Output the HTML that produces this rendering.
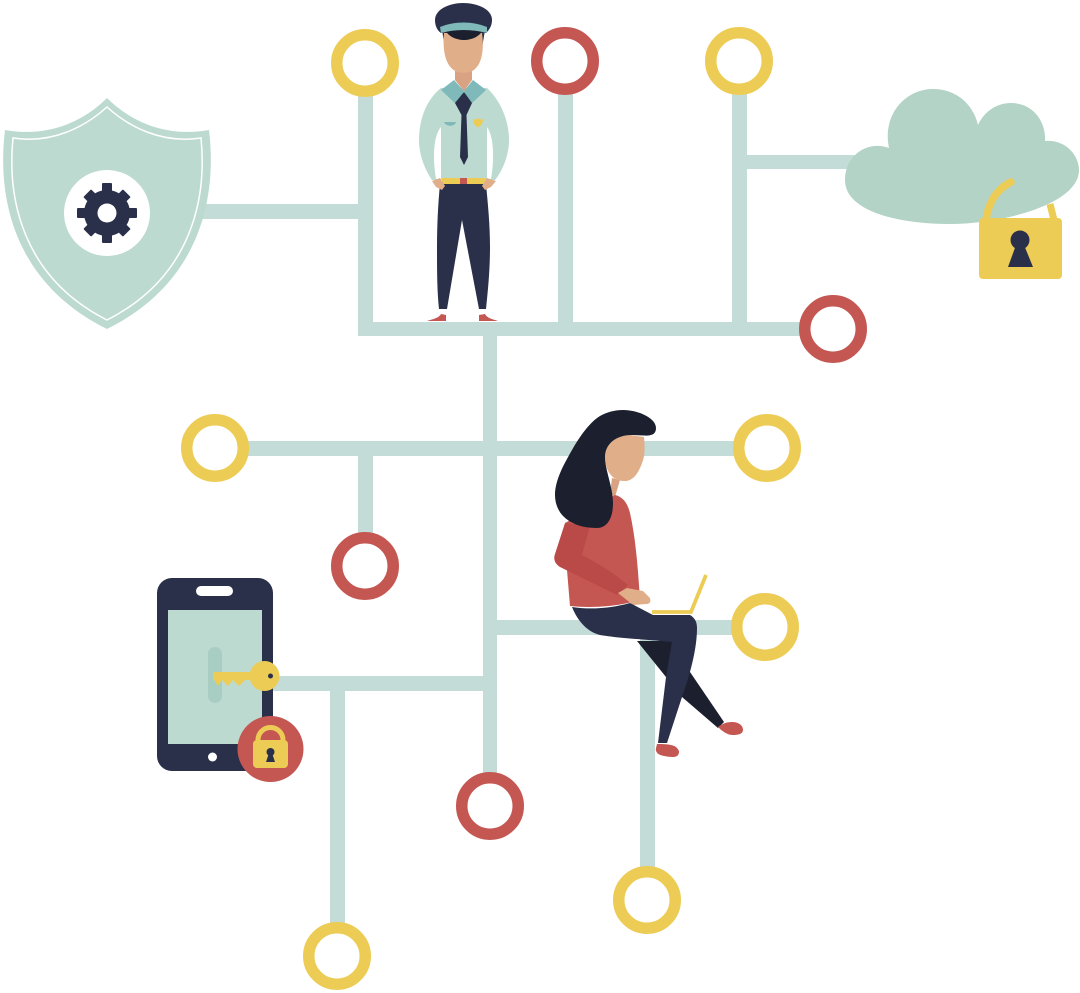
<!DOCTYPE html>
<html><head><meta charset="utf-8"><style>html,body{margin:0;padding:0;background:#fff}svg{display:block}</style></head>
<body>
<svg width="1080" height="993" viewBox="0 0 1080 993" xmlns="http://www.w3.org/2000/svg">
<!-- connectors -->
<g fill="#c3dcd7">
<rect x="358" y="62" width="15" height="274"/>
<rect x="358" y="322" width="475" height="14"/>
<rect x="558" y="62" width="15" height="267"/>
<rect x="732" y="62" width="15" height="267"/>
<rect x="739" y="155" width="131" height="14"/>
<rect x="195" y="204" width="170" height="15"/>
<rect x="483" y="329" width="14" height="477"/>
<rect x="215" y="441" width="552" height="15"/>
<rect x="358" y="448" width="15" height="118"/>
<rect x="490" y="620" width="275" height="15"/>
<rect x="640" y="627" width="15" height="273"/>
<rect x="270" y="676" width="220" height="15"/>
<rect x="330" y="683" width="15" height="273"/>
</g>
<!-- nodes -->
<g fill="#fff" stroke-width="11.500">
<g stroke="#edcc56">
<circle cx="365" cy="63" r="28.250"/><circle cx="739" cy="61" r="28.250"/><circle cx="215" cy="448" r="28.250"/><circle cx="767" cy="448" r="28.250"/><circle cx="765" cy="627" r="28.250"/><circle cx="647" cy="900" r="28.250"/><circle cx="337" cy="956" r="28.250"/>
</g>
<g stroke="#c55753">
<circle cx="565" cy="61" r="28.250"/><circle cx="833" cy="329" r="28.250"/><circle cx="365" cy="566" r="28.250"/><circle cx="490" cy="806" r="28.250"/>
</g>
</g>
<!-- shield -->
<path d="M107 98C85 120 50 138 5 130C-3 195 12 282 107 329C202 282 217 195 209 130C164 138 129 120 107 98Z" fill="#bcdad0"/>
<path d="M107 107C85 127 52 144 13 138C7 198 22 277 107 320C192 277 207 198 201 138C162 144 129 127 107 107Z" fill="none" stroke="#fff" stroke-width="1.500"/>
<circle cx="107" cy="213" r="43" fill="#fff"/>
<g fill="#2a304a" transform="translate(107 213)">
<circle r="23"/>
<rect x="-5" y="-30" width="10" height="60" rx="1"/><rect x="-30" y="-5" width="60" height="10" rx="1"/><rect x="-5.500" y="-28" width="11" height="56" rx="1" transform="rotate(45)"/><rect x="-5.500" y="-28" width="11" height="56" rx="1" transform="rotate(-45)"/>
<circle r="9.500" fill="#fff"/>
</g>
<!-- cloud -->
<path d="M889 148C882 115 905 89 933 89C955 89 973 103 978 125C985 110 998 103 1011 103C1032 103 1046 120 1045 141C1065 139 1079 155 1079 170C1079 205 1000 224 950 224C900 224 845 212 845 180C845 155 868 140 889 148Z" fill="#b2d3c6"/>
<path d="M986 220C988 205 995 190 1011 182" fill="none" stroke="#edcc56" stroke-width="7.500" stroke-linecap="round"/>
<path d="M1050 204L1054 220" fill="none" stroke="#edcc56" stroke-width="7"/>
<rect x="979" y="218" width="83" height="61" rx="4" fill="#edcc56"/>
<circle cx="1020" cy="240" r="9.500" fill="#2a304a"/>
<path d="M1016 245H1024L1033 267H1008Z" fill="#2a304a"/>
<!-- phone -->
<rect x="157" y="578" width="116" height="193" rx="15" fill="#2a304a"/>
<rect x="168" y="610" width="94" height="134" fill="#bcdad0"/>
<rect x="196" y="586" width="37" height="10" rx="5" fill="#fff"/>
<circle cx="212.500" cy="757" r="4.500" fill="#fff"/>
<rect x="208" y="647" width="14" height="56" rx="7" fill="#a8cdc2"/>
<path d="M213 672H255V680H245L239 686L233 680L228 686L222 680L218 686L213 678Z" fill="#edcc56"/>
<circle cx="264.500" cy="676" r="15" fill="#edcc56"/>
<circle cx="270.500" cy="676" r="2.500" fill="#2a304a"/>
<circle cx="270.500" cy="749" r="33" fill="#c55753"/>
<path d="M258 745V740A12.500 12.500 0 0 1 283 740V745" fill="none" stroke="#edcc56" stroke-width="5"/>
<rect x="253" y="740" width="35" height="28" rx="4" fill="#edcc56"/>
<circle cx="270.500" cy="752" r="4" fill="#2a304a"/>
<path d="M269 753H272L275 762H266Z" fill="#2a304a"/>
<!-- policeman -->
<path d="M427 321C433 319 439 318 441 314L446 315V321Z" fill="#c55753"/>
<path d="M498 321C492 319 487 318 485 314L479 315V321Z" fill="#c55753"/>
<path d="M441 88C426 100 419 120 419 140C419 155 425 170 432 180H495C503 170 509 155 509 140C509 120 500 100 487 88Z" fill="#bcdad0"/>
<path d="M441 127C434 135 432 155 436 179H441Z" fill="#fff"/>
<path d="M487 127C493 135 495 155 491 179H487Z" fill="#fff"/>
<rect x="442" y="178" width="44" height="6" fill="#edcc56"/>
<rect x="460" y="178" width="7" height="6" fill="#c55753"/>
<path d="M440 184L486 184C488 205 490 225 490 247C490 270 488 290 486 309L479 309L462 220L447 309L439 309C437 290 437 270 437 247C437 225 438 205 440 184Z" fill="#2a304a"/>
<path d="M432 181L440 178L445 186L442 190L436 187Z" fill="#e0ae88"/>
<path d="M496 181L487 178L482 186L485 190L491 187Z" fill="#e0ae88"/>
<path d="M455 65H472V80L464 91L455 80Z" fill="#d9a282"/>
<path d="M441 90L454 80L464 91L457 105Z" fill="#7fb9b9"/>
<path d="M486 90L473 80L464 91L470 105Z" fill="#7fb9b9"/>
<path d="M455 103L464 92L472 103L466.500 115L468 157L464 165L460 157L461.500 115Z" fill="#2a304a"/>
<path d="M473 119C475 120 477 119.500 478 118C479 119.500 481 120 483 119C483 123 481 126 478 127.500C475 126 473 123 473 119Z" fill="#edcc56"/>
<path d="M444 122H456C455 127 446 127 444 122Z" fill="#7fb9b9"/>
<path d="M442 30L445 48L448 33H480L482 48L485 30Z" fill="#2a304a"/>
<path d="M444 33C442 55 447 73 464 73C480 73 485 55 482 33Z" fill="#e0ae88"/>
<path d="M435 20C435 9 450 3 463 3C477 3 492 9 492 20C492 27 488 31 486 33H441C438 31 435 27 435 20Z" fill="#2a304a"/>
<path d="M446 31C452 29 476 29 482 31C480 36 472 40 464 40C456 40 448 36 446 31Z" fill="#1c1f2e"/>
<path d="M440 27C455 21 472 21 487 27L487 33C472 29 455 29 441 33Z" fill="#7fb9b9"/>
<!-- woman -->
<path d="M612 478L620 480L615 497L610 494Z" fill="#d9a282"/>
<path d="M565 523L615 495C624 497 628 505 630 513C636 540 638 570 640 600L628 603C610 607 588 608 570 606L567 570Z" fill="#c55753"/>
<path d="M565 523L590 526L582 555C598 563 615 574 628 585L617 595L560 567C555 564 553 559 555 554Z" fill="#b94a48"/>
<path d="M618 593L627 588L643 591L650 598C651 602 650 604 646 604L633 605Z" fill="#e0ae88"/>
<path d="M652 612H691L706 575" fill="none" stroke="#edcc56" stroke-width="3.800"/>
<path d="M637 641L666 677L682 697L718 728L724 722L690 672L672 641Z" fill="#1c1f2e"/>
<path d="M572 607C592 610 612 608 630 603L653 615H690C695 618 697 622 697 628C697 652 688 680 682 697L667 743H658L666 677L672 642L637 639C620 638 606 636 600 635C588 632 578 622 572 607Z" fill="#2a304a"/>
<path d="M718 727C722 724 726 722 732 722C738 722 743 725 743 730C743 734 738 735 733 735C727 735 722 731 718 727Z" fill="#c55753"/>
<path d="M657 744C662 744 672 744 676 747C679 750 680 752 678 755C676 758 670 757 664 756C658 755 655 752 656 748Z" fill="#c55753"/>
<path d="M605 457C605 445 615 435 630 435L644 437C645 448 645 456 642 463C639 472 634 480 626 481C612 482 605 470 605 457Z" fill="#e0ae88"/>
<path d="M623 410C638 410 656 418 656 428C656 434 652 436 644 435.500L632 435C616 435 605 444 605 457C605 470 613 487 613 503C613 520 606 528 597 528C587 528 578 526 573 523C562 518 555 508 555 495C555 480 564 464 572 450C580 436 590 422 600 416C607 412 615 410 623 410Z" fill="#1c1f2e"/>
</svg>
</body></html>
